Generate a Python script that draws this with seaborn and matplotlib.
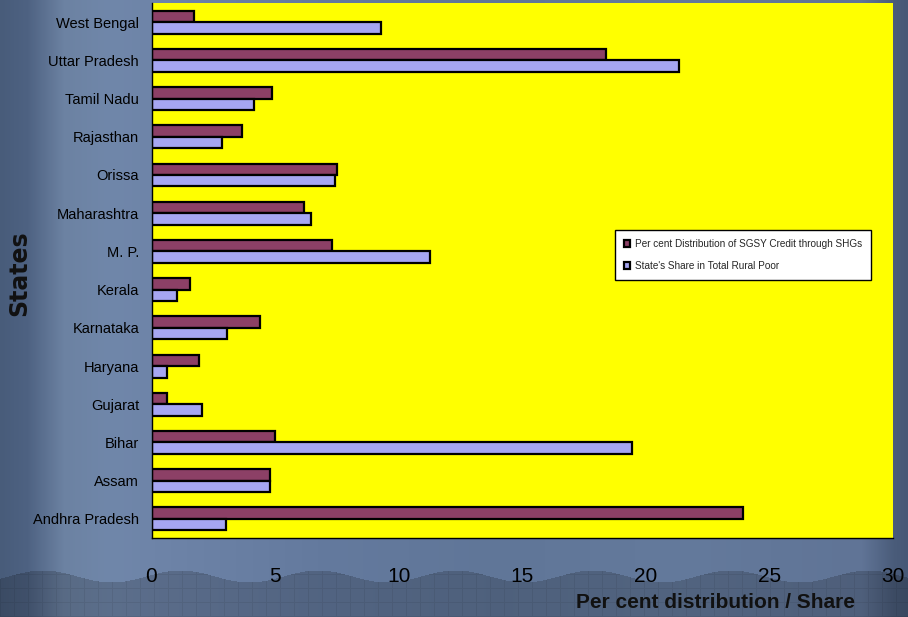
import numpy as np
import pandas as pd
import matplotlib
matplotlib.use("Agg")
import matplotlib.pyplot as plt
import seaborn as sns
from matplotlib.ticker import FixedLocator

# States listed from top of the chart to the bottom
states = ["West Bengal", "Uttar Pradesh", "Tamil Nadu", "Rajasthan", "Orissa",
          "Maharashtra", "M. P.", "Kerala", "Karnataka", "Haryana", "Gujarat",
          "Bihar", "Assam", "Andhra Pradesh"]

sgsy_credit = [1.7, 18.4, 4.87, 3.65, 7.5, 6.15, 7.3, 1.57, 4.37, 1.92, 0.61,
               5.0, 4.78, 23.95]
rural_poor = [9.3, 21.35, 4.14, 2.85, 7.43, 6.44, 11.25, 1.04, 3.07, 0.61, 2.06,
              19.45, 4.78, 3.0]

series_names = ["Per cent Distribution of SGSY Credit through SHGs",
                "State's Share in Total Rural Poor"]
series_colors = ["#993366", "#9999FF"]
x_ticks = [0, 5, 10, 15, 20, 25, 30]

df = pd.DataFrame({
    "State": states * 2,
    "Value": sgsy_credit + rural_poor,
    "Series": [series_names[0]] * len(states) + [series_names[1]] * len(states),
})

sns.set_style("white")
plt.rcParams["font.family"] = ["Liberation Sans", "DejaVu Sans"]

fig = plt.figure(figsize=(9.08, 6.17), dpi=100)

# Slide-style blue backdrop
bg = fig.add_axes([0, 0, 1, 1], zorder=-10)
bg.set_axis_off()
W, H = 908, 617
xs = np.linspace(0, 1, W)
stops_x = [0.0, 0.03, 0.07, 0.12, 0.17, 0.35, 0.55, 0.75, 0.95, 0.985, 1.0]
stops_c = np.array([
    [72, 92, 122], [78, 98, 130], [108, 130, 162], [112, 135, 170],
    [110, 132, 168], [100, 122, 158], [96, 118, 152], [100, 122, 156],
    [96, 116, 150], [74, 92, 122], [70, 88, 118]]) / 255.0
row = np.stack([np.interp(xs, stops_x, stops_c[:, k]) for k in range(3)], axis=-1)
img = np.repeat(row[None, :, :], H, axis=0)
yy = np.arange(H)[:, None]
xx = np.arange(W)[None, :]
wave = 582 - 12 * np.sin(xx / 908 * 2 * np.pi * 3.3 + 0.6) ** 2
lower = yy > wave
grid = ((xx % 14 == 0) | (yy % 14 == 0))
shade = np.where(lower, 0.82, 1.0) * np.where(lower & grid, 0.93, 1.0)
img = img * shade[:, :, None]
bg.imshow(img, aspect="auto", extent=[0, 1, 0, 1], transform=bg.transAxes)

ax = fig.add_axes([151.5 / W, 1 - 538 / H, (893 - 151.5) / W, (538 - 3) / H])
ax.set_facecolor("#FFFF00")

sns.barplot(data=df, y="State", x="Value", hue="Series", order=states,
            hue_order=series_names, palette=series_colors, orient="h",
            width=0.6, edgecolor="black", linewidth=1.6, ax=ax,
            legend=True, errorbar=None)

ax.set_xlim(0, 30)
ax.set_ylim(len(states) - 0.5, -0.5)
ax.xaxis.set_major_locator(FixedLocator(x_ticks))
ax.set_xticklabels([str(t) for t in x_ticks])
ax.tick_params(axis="x", direction="out", length=5, width=1, color="black",
               pad=16, labelsize=15, labelcolor="black")
ax.tick_params(axis="y", which="major", length=0, pad=9, labelsize=10.5,
               labelcolor="black")
ax.yaxis.set_minor_locator(FixedLocator(np.arange(-0.5, len(states), 1.0)))
ax.tick_params(axis="y", which="minor", direction="out", length=4, width=1,
               color="black")

for side in ["top", "right"]:
    ax.spines[side].set_visible(False)
for side in ["left", "bottom"]:
    ax.spines[side].set_color("black")
    ax.spines[side].set_linewidth(1.0)

ax.set_xlabel("")
ax.set_ylabel("")
fig.text(716 / W, 1 - 602 / H, "Per cent distribution / Share", ha="center",
         va="center", fontsize=15, fontweight="bold", color="#111111")
fig.text(19 / W, 1 - 273 / H, "States", ha="center", va="center", rotation=90,
         fontsize=17, fontweight="bold", color="#111111", family=["DejaVu Sans"])

leg = ax.legend(loc="upper left", bbox_to_anchor=(615 / W, 1 - 230 / H),
                bbox_transform=fig.transFigure, frameon=True, fancybox=False,
                edgecolor="black", facecolor="white", framealpha=1,
                fontsize=7.2, handlelength=0.6, handleheight=0.6,
                handletextpad=0.5, labelspacing=1.2, borderpad=0.9,
                borderaxespad=0)
leg.get_frame().set_linewidth(1.0)

fig.savefig("out.png", dpi=100)
